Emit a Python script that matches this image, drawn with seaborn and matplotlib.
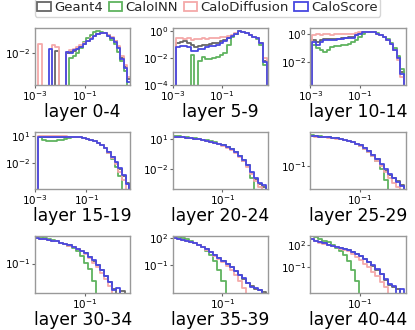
import numpy as np
import matplotlib
matplotlib.use("Agg")
import matplotlib.pyplot as plt
from matplotlib.patches import Patch
import seaborn as sns

LAYERS = ["layer 0-4", "layer 5-9", "layer 10-14",
          "layer 15-19", "layer 20-24", "layer 25-29",
          "layer 30-34", "layer 35-39", "layer 40-44"]
SERIES = ["Geant4", "CaloINN", "CaloDiffusion", "CaloScore"]
COLORS = ["#666666", "#5fb35f", "#f5a9a9", "#4848e0"]

# log10 of the histogram height per bin (None = empty bin), one row per panel
GEANT4 = [
    [None, None, None, None, None, None, -1.94, None, None, -2.0, -1.97, -1.94, -1.89, -1.82, -1.75, -1.66, -1.57, -1.5, -1.45, -1.41, -1.42, -1.48, -1.55, -1.66, -1.82, -2.14, -2.41, -2.77],
    [-0.85, -0.8, -0.75, -0.85, -1.05, -1.2, -1.1, -1.05, -1.0, -0.95, -0.9, -0.85, -0.75, -0.65, -0.5, -0.38, -0.2, 0.0, -0.05, -0.15, -0.3, -0.45, -0.55, -0.9, -2.2],
    [-0.45, -0.55, -0.45, -0.35, -0.38, -0.35, -0.33, -0.33, -0.3, -0.28, -0.25, -0.22, -0.08, 0.03, 0.1, 0.15, 0.16, 0.12, 0.02, -0.1, -0.22, -0.4, -0.7, -1.1, -1.65, -2.7],
    [0.9, 0.9, 0.92, 0.93, 0.93, 0.92, 0.92, 0.9, 0.9, 0.88, 0.87, 0.85, 0.8, 0.7, 0.6, 0.45, 0.28, 0.05, -0.3, -0.75, -1.3, -1.9, -2.6, -3.4, -4.1],
    [1.22, 1.2, 1.18, 1.15, 1.1, 1.05, 1.0, 0.92, 0.85, 0.75, 0.65, 0.52, 0.38, 0.2, 0.0, -0.3, -0.7, -1.15, -1.6, -2.4, -3.0, -3.5, -3.8],
    [1.5, 1.48, 1.46, 1.43, 1.4, 1.36, 1.32, 1.26, 1.18, 1.1, 1.0, 0.88, 0.72, 0.5, 0.25, -0.1, -0.45, -0.9, -1.4, -1.75, -2.0, -2.3, -2.6],
    [1.55, 1.5, 1.45, 1.4, 1.33, 1.25, 1.12, 1.0, 0.85, 0.7, 0.5, 0.3, 0.05, -0.35, -0.7, -1.2, -1.7, -2.3, -2.9, -3.6, None, -3.8, None],
    [2.0, 1.9, 1.8, 1.7, 1.55, 1.4, 1.2, 1.0, 0.75, 0.45, 0.1, -0.2, -0.5, -0.85, -1.25, -1.7, -2.1, -2.5, -3.0, -3.3, -3.6, -3.8, -4.0],
    [2.75, 2.5, 2.3, 2.15, 2.0, 1.85, 1.75, 1.6, 1.45, 1.3, 1.05, 0.75, 0.45, 0.1, -0.3, -0.8, -1.3, -1.9, -2.7, -3.3, -3.6, -3.9, None],
]
CALOINN = [
    [None, None, None, None, None, None, None, None, None, None, -2.14, -2.09, -2.0, -1.87, -1.69, -1.55, -1.46, -1.4, -1.37, -1.38, -1.42, -1.5, -1.61, -1.75, -1.96, -2.23, -2.54, None],
    [None, None, None, None, -1.8, None, -2.2, -1.9, -2.1, -2.05, -2.0, -1.9, -1.8, -1.6, -1.0, -0.45, -0.2, 0.0, -0.05, -0.15, -0.3, -0.45, -0.6, -1.0, -2.5],
    [-0.8, -1.0, -1.1, -1.3, -1.1, -0.9, -0.85, -0.85, -0.8, -0.75, -0.7, -0.6, -0.45, -0.2, 0.0, 0.12, 0.16, 0.12, 0.03, -0.08, -0.2, -0.38, -0.65, -1.0, -1.55, -2.5],
    [0.85, 0.6, 0.5, 0.45, 0.5, 0.55, 0.6, 0.7, 0.8, 0.85, 0.88, 0.85, 0.8, 0.7, 0.6, 0.45, 0.25, 0.0, -0.35, -0.85, -1.5, -2.4, -3.4, None, None],
    [1.3, 1.25, 1.2, 1.16, 1.11, 1.06, 1.0, 0.93, 0.86, 0.76, 0.66, 0.53, 0.38, 0.2, 0.0, -0.3, -0.7, -1.1, -1.7, -2.9, None, None, None],
    [1.58, 1.53, 1.49, 1.45, 1.41, 1.37, 1.32, 1.26, 1.18, 1.1, 1.0, 0.87, 0.7, 0.45, 0.15, -0.2, -0.6, -1.3, -2.2, None, None, None, None],
    [1.8, 1.68, 1.58, 1.48, 1.37, 1.25, 1.1, 0.95, 0.78, 0.58, 0.32, -0.25, -0.9, -1.6, -2.8, None, None, None, None, None, None, None, None],
    [2.25, 2.12, 2.0, 1.85, 1.66, 1.45, 1.2, 0.95, 0.6, 0.15, -0.6, -1.6, -2.8, None, None, None, None, None, None, None, None, None, None],
    [3.2, 2.95, 2.7, 2.5, 2.3, 2.0, 1.6, 1.1, 0.6, -0.2, -1.3, -2.8, None, None, None, None, None, None, None, None, None, None, None],
]
CALODIFFUSION = [
    [None, -1.75, None, None, None, -1.78, -1.82, None, None, -1.96, -1.91, -1.89, -1.84, -1.78, -1.71, -1.64, -1.55, -1.5, -1.44, -1.41, -1.42, -1.47, -1.54, -1.64, -1.8, -2.09, -2.36, -2.72],
    [-0.5, -0.55, -0.6, -0.55, -0.65, -0.6, -0.6, -0.55, -0.6, -0.55, -0.55, -0.5, -0.45, -0.45, -0.4, -0.3, -0.15, 0.0, -0.05, -0.15, -0.3, -0.45, -0.55, -0.9, -2.0],
    [-0.05, 0.0, -0.05, -0.02, 0.0, -0.05, 0.0, 0.02, -0.03, 0.0, 0.02, 0.0, 0.05, 0.1, 0.12, 0.15, 0.16, 0.12, 0.02, -0.1, -0.22, -0.4, -0.72, -1.15, -1.8, -3.0],
    [0.95, 0.98, 0.97, 0.98, 0.97, 0.96, 0.95, 0.94, 0.93, 0.9, 0.88, 0.86, 0.8, 0.7, 0.6, 0.45, 0.27, 0.02, -0.35, -0.85, -1.45, -2.1, -2.9, -3.8, None],
    [1.2, 1.18, 1.16, 1.13, 1.08, 1.03, 0.98, 0.9, 0.83, 0.73, 0.62, 0.5, 0.35, 0.15, -0.05, -0.35, -0.75, -1.2, -1.75, -2.5, -3.2, -3.8, None],
    [1.48, 1.46, 1.44, 1.41, 1.38, 1.34, 1.3, 1.24, 1.16, 1.08, 0.98, 0.85, 0.68, 0.45, 0.2, -0.15, -0.55, -1.0, -1.55, -2.0, -2.4, -2.8, None],
    [1.55, 1.5, 1.45, 1.4, 1.33, 1.24, 1.1, 0.97, 0.82, 0.66, 0.45, 0.22, -0.05, -0.45, -0.9, -1.4, -2.0, -2.6, -3.3, None, None, None, None],
    [2.0, 1.9, 1.8, 1.7, 1.55, 1.4, 1.2, 0.98, 0.72, 0.4, 0.05, -0.3, -0.65, -1.05, -1.55, -2.1, -2.8, -3.5, None, None, None, None, None],
    [2.7, 2.45, 2.25, 2.1, 1.95, 1.8, 1.65, 1.45, 1.3, 1.1, 0.75, 0.35, -0.05, -0.5, -1.0, -1.6, -2.2, -2.9, -3.6, None, None, None, None],
]
CALOSCORE = [
    [None, None, None, None, -1.88, None, None, None, None, -1.98, -2.0, -1.93, -1.88, -1.82, -1.74, -1.66, -1.58, -1.5, -1.44, -1.41, -1.43, -1.49, -1.57, -1.68, -1.86, -2.18, -2.45, -2.86],
    [-1.15, -1.1, -1.1, -1.15, -1.5, -1.45, -1.3, -1.3, -1.2, -1.1, -1.1, -1.0, -0.85, -0.7, -0.55, -0.4, -0.2, 0.0, -0.05, -0.15, -0.3, -0.45, -0.55, -0.9, -2.3],
    [-0.55, -0.75, -0.6, -0.45, -0.45, -0.4, -0.4, -0.38, -0.35, -0.32, -0.3, -0.28, -0.1, 0.02, 0.1, 0.15, 0.16, 0.12, 0.02, -0.1, -0.22, -0.4, -0.7, -1.1, -1.7, -2.8],
    [0.88, 0.9, 0.9, 0.92, 0.93, 0.93, 0.92, 0.9, 0.9, 0.88, 0.87, 0.85, 0.8, 0.7, 0.6, 0.45, 0.28, 0.05, -0.28, -0.72, -1.25, -1.85, -2.55, -3.3, -4.2],
    [1.22, 1.2, 1.18, 1.15, 1.1, 1.05, 1.0, 0.92, 0.85, 0.75, 0.65, 0.52, 0.38, 0.2, 0.0, -0.28, -0.65, -1.1, -1.55, -2.3, -2.9, -3.4, -3.6],
    [1.5, 1.48, 1.46, 1.43, 1.4, 1.36, 1.32, 1.26, 1.18, 1.1, 1.0, 0.88, 0.72, 0.52, 0.28, -0.05, -0.4, -0.8, -1.3, -1.65, -2.0, -2.35, -2.7],
    [1.55, 1.5, 1.45, 1.4, 1.33, 1.25, 1.12, 1.0, 0.85, 0.7, 0.5, 0.3, 0.05, -0.33, -0.68, -1.15, -1.65, -2.25, -2.85, -3.7, -3.5, None, None],
    [2.0, 1.9, 1.8, 1.7, 1.55, 1.4, 1.2, 1.0, 0.75, 0.45, 0.1, -0.2, -0.5, -0.85, -1.22, -1.65, -2.05, -2.45, -2.95, -3.4, -3.5, -3.8, None],
    [2.75, 2.5, 2.3, 2.15, 2.0, 1.87, 1.75, 1.62, 1.47, 1.3, 1.05, 0.78, 0.48, 0.12, -0.28, -0.75, -1.25, -1.85, -2.6, -3.2, -3.5, None, -3.9],
]

# bin range (log10 of x) and axis limits (log10) for each panel
BIN_LO = [-3.0, -2.85, -2.91, -2.86, -2.9, -2.9, -2.9, -2.9, -2.9]
BIN_HI = [0.86, 0.82, 0.76, 0.67, 0.68, 0.68, 0.68, 0.68, 0.68]
XLIM = [(-3.0, 0.85), (-3.0, 0.88), (-3.0, 0.84), (-3.0, 0.72),
        (-2.9, 0.75), (-2.9, 0.75), (-2.9, 0.75), (-2.9, 0.75), (-2.9, 0.75)]
YLIM = [(-2.95, -1.27), (-4.0, 0.22), (-3.6, 0.41), (-4.8, 1.43), (-4.0, 1.7),
        (-2.95, 1.85), (-4.0, 1.8), (-4.1, 2.23), (-4.4, 3.15)]
XTICKS = [-3, -1]
YTICKS = [[-2], [-4, -2, 0], [-2, 0], [-2, 1], [-2, 1], [-1], [-1], [-1, 2], [-1, 2]]

FLOOR = 1e-9  # empty bins drop below the axis

sns.set_theme(style="white")
plt.rcParams["font.family"] = ["DejaVu Sans"]
plt.rcParams["mathtext.fontset"] = "dejavusans"

fig, axes = plt.subplots(3, 3, figsize=(4.15, 3.3), dpi=100)
fig.subplots_adjust(left=0.084, right=0.978, top=0.915, bottom=0.112,
                    wspace=0.44, hspace=0.82)

all_series = [GEANT4, CALOINN, CALODIFFUSION, CALOSCORE]

for i, ax in enumerate(axes.flat):
    ax.set_xscale("log")
    ax.set_yscale("log")
    n_bins = len(GEANT4[i])
    edges = np.logspace(BIN_LO[i], BIN_HI[i], n_bins + 1)
    for name, color, series in zip(SERIES, COLORS, all_series):
        heights = np.array([10.0 ** v if v is not None else FLOOR for v in series[i]])
        xs = np.r_[edges[0], edges]
        ys = np.r_[FLOOR, heights, FLOOR]
        sns.lineplot(x=xs, y=ys, ax=ax, color=color, lw=1.3,
                     drawstyle="steps-post", estimator=None, sort=False,
                     legend=False)

    ax.set_xticks([10.0 ** t for t in XTICKS])
    ax.set_yticks([10.0 ** t for t in YTICKS[i]])
    ax.minorticks_off()
    ax.set_xlim(10 ** XLIM[i][0], 10 ** XLIM[i][1])
    ax.set_ylim(10 ** YLIM[i][0], 10 ** YLIM[i][1])
    ax.set_xlabel(LAYERS[i], fontsize=12.3, labelpad=0.2, color="black")
    ax.set_ylabel("")
    ax.tick_params(which="major", length=2, width=0.8, color="0.4",
                   labelsize=7.5, pad=1.0, labelcolor="black",
                   bottom=True, left=True)
    for sp in ax.spines.values():
        sp.set_color("0.6")
        sp.set_linewidth(1.0)

handles = [Patch(facecolor="none", edgecolor=c, linewidth=1.3) for c in COLORS]
fig.legend(handles, SERIES, loc="upper center", bbox_to_anchor=(0.5, 1.005),
           ncol=4, fontsize=9.5, frameon=True, handlelength=1.0,
           handleheight=0.75, handletextpad=0.25, columnspacing=0.45,
           borderpad=0.2, borderaxespad=0.0, fancybox=True, edgecolor="0.8")

fig.savefig("out.png", dpi=100)
